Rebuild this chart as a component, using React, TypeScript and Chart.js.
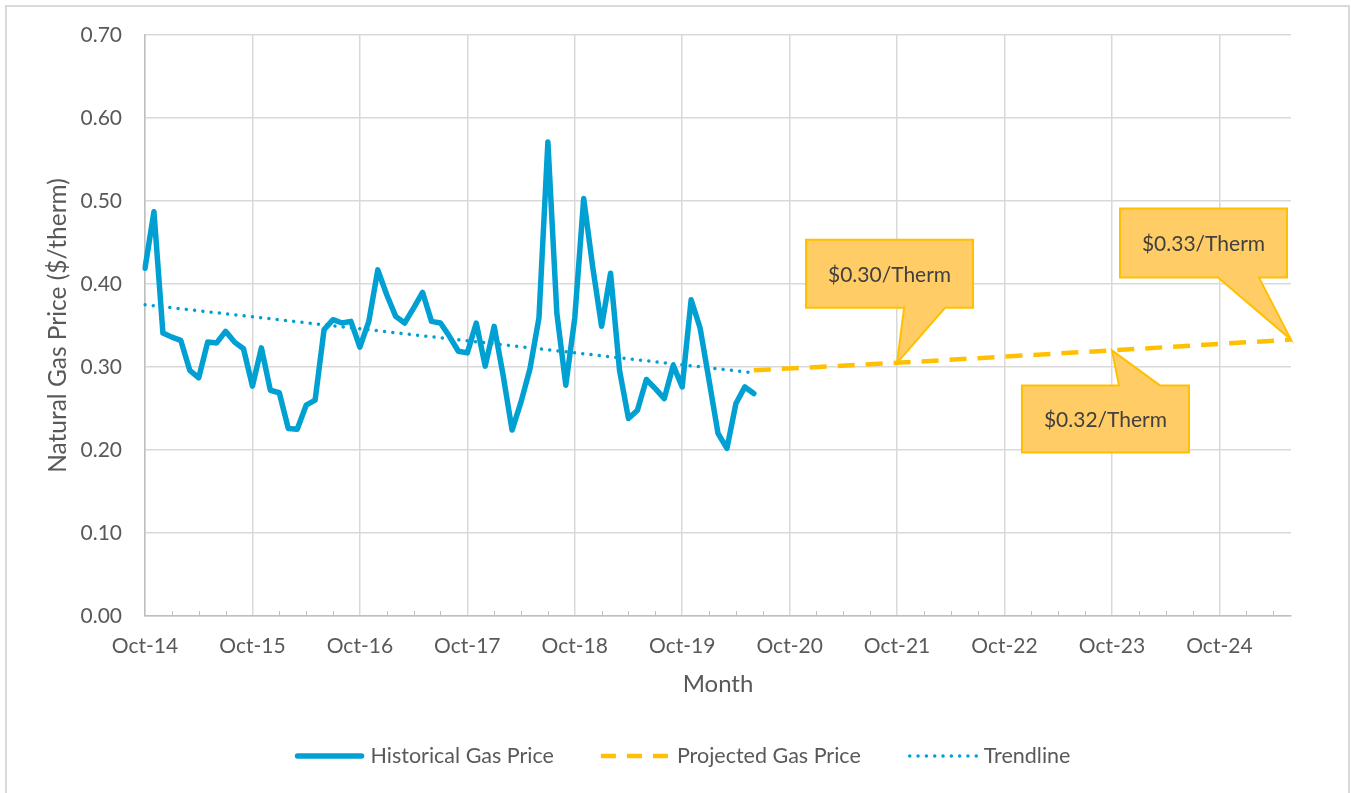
import React, { useEffect, useRef } from 'react';
import { Chart, registerables } from 'chart.js';

Chart.register(...registerables);

// ---------- data ----------
const MONTH_NAMES = ['Jan', 'Feb', 'Mar', 'Apr', 'May', 'Jun', 'Jul', 'Aug', 'Sep', 'Oct', 'Nov', 'Dec'];
const FIRST_YEAR = 2014;
const FIRST_MONTH_INDEX = 9; // Oct
const MONTH_COUNT = 129; // Oct-14 .. Jun-25

const categories: string[] = [];
for (let i = 0; i < MONTH_COUNT; i++) {
  const m = (FIRST_MONTH_INDEX + i) % 12;
  const yr = FIRST_YEAR + Math.floor((FIRST_MONTH_INDEX + i) / 12);
  categories.push(`${MONTH_NAMES[m]}-${String(yr % 100).padStart(2, '0')}`);
}

// Historical monthly gas price, Oct-14 .. Jun-20 ($/therm)
const historicalPrices = [
  0.419, 0.487, 0.341, 0.336, 0.332, 0.296, 0.287, 0.330, 0.329, 0.343, 0.330, 0.322,
  0.277, 0.323, 0.272, 0.269, 0.226, 0.225, 0.254, 0.260, 0.345, 0.357, 0.353, 0.355,
  0.324, 0.355, 0.417, 0.387, 0.361, 0.353, 0.371, 0.390, 0.355, 0.353, 0.337, 0.319,
  0.317, 0.353, 0.301, 0.349, 0.290, 0.224, 0.258, 0.298, 0.359, 0.571, 0.365, 0.278,
  0.359, 0.503, 0.421, 0.349, 0.413, 0.296, 0.238, 0.248, 0.285, 0.274, 0.262, 0.302,
  0.276, 0.381, 0.347, 0.284, 0.220, 0.202, 0.256, 0.276, 0.268,
];

// Projected gas price (straight line through these months)
const projectedMonths = ['Jun-20', 'Oct-21', 'Oct-23', 'Jun-25'];
const projectedValues = [0.296, 0.305, 0.320, 0.333];

// Linear trendline end points
const trendMonths = ['Oct-14', 'Jun-20'];
const trendValues = [0.375, 0.293];

// Callouts
const calloutTexts = ['$0.30/Therm', '$0.32/Therm', '$0.33/Therm'];
const calloutMonths = ['Oct-21', 'Oct-23', 'Jun-25'];

// y ticks
const yTickMin = 0;
const yTickMax = 0.7;
const yTickStep = 0.1;

const seriesNames = ['Historical Gas Price', 'Projected Gas Price', 'Trendline'];

// ---------- build series ----------
const historicalSeries = categories.map((_, i) => (i < historicalPrices.length ? historicalPrices[i] : null));
const projectedSeries: (number | null)[] = categories.map(() => null);
projectedMonths.forEach((m, i) => { projectedSeries[categories.indexOf(m)] = projectedValues[i]; });
const trendSeries: (number | null)[] = categories.map(() => null);
trendMonths.forEach((m, i) => { trendSeries[categories.indexOf(m)] = trendValues[i]; });

// ---------- styles ----------
const BLUE = '#00A0D3';
const GOLD = '#FFC000';
const TEXT = '#595959';
const GRID = '#d9d9d9';
const AXIS = '#bfbfbf';
const FONT = 'Lato, "Open Sans", sans-serif';

// callout geometry relative to the anchor (tip) point, in px
const calloutGeom = [
  { l: -91, r: 76, t: -123, b: -55, b1: 7, b2: 48, pointerAt: 'bottom' },
  { l: -90, r: 77, t: 35, b: 102, b1: 7, b2: 48, pointerAt: 'top' },
  { l: -171, r: -4, t: -131, b: -62, b1: -73, b2: -32, pointerAt: 'bottom' },
];

const calloutPlugin = {
  id: 'callouts',
  afterDatasetsDraw(chart: any) {
    const { ctx, scales } = chart;
    const x = scales.x, y = scales.y;
    ctx.save();
    calloutMonths.forEach((m, i) => {
      const idx = categories.indexOf(m);
      const v = projectedSeries[idx] as number;
      const tx = x.getPixelForValue(idx);
      const ty = y.getPixelForValue(v);
      const g = calloutGeom[i];
      const L = tx + g.l, R = tx + g.r, T = ty + g.t, B = ty + g.b;
      ctx.beginPath();
      if (g.pointerAt === 'bottom') {
        ctx.moveTo(L, T);
        ctx.lineTo(R, T);
        ctx.lineTo(R, B);
        ctx.lineTo(tx + g.b2, B);
        ctx.lineTo(tx, ty);
        ctx.lineTo(tx + g.b1, B);
        ctx.lineTo(L, B);
      } else {
        ctx.moveTo(L, T);
        ctx.lineTo(tx + g.b1, T);
        ctx.lineTo(tx, ty);
        ctx.lineTo(tx + g.b2, T);
        ctx.lineTo(R, T);
        ctx.lineTo(R, B);
        ctx.lineTo(L, B);
      }
      ctx.closePath();
      ctx.fillStyle = '#FFCC66';
      ctx.fill();
      ctx.lineWidth = 2;
      ctx.strokeStyle = GOLD;
      ctx.lineJoin = 'miter';
      ctx.stroke();
      ctx.fillStyle = '#404040';
      ctx.font = `21px ${FONT}`;
      ctx.textAlign = 'center';
      ctx.textBaseline = 'middle';
      ctx.fillText(calloutTexts[i], (L + R) / 2, (T + B) / 2 + 1);
    });
    ctx.restore();
  },
};

const minorTickPlugin = {
  id: 'minorTicks',
  afterDraw(chart: any) {
    const { ctx, scales, chartArea } = chart;
    const x = scales.x;
    ctx.save();
    ctx.strokeStyle = AXIS;
    ctx.lineWidth = 1;
    for (let i = 0; i < categories.length; i++) {
      if (i % 3 === 0 && i % 12 !== 0) {
        const px = Math.round(x.getPixelForValue(i)) + 0.5;
        ctx.beginPath();
        ctx.moveTo(px, chartArea.bottom - 5);
        ctx.lineTo(px, chartArea.bottom);
        ctx.stroke();
      }
    }
    ctx.restore();
  },
};

const legendPlugin = {
  id: 'customLegend',
  afterDraw(chart: any) {
    const { ctx, width } = chart;
    const sampleW = 70, gap = 6, spacing = 47, yc = 749;
    ctx.save();
    ctx.font = `21.5px ${FONT}`;
    const widths = seriesNames.map((n) => sampleW + gap + ctx.measureText(n).width);
    const total = widths.reduce((a, b) => a + b, 0) + spacing * (widths.length - 1);
    let cx = width / 2 + 5 - total / 2;
    seriesNames.forEach((name, i) => {
      ctx.save();
      ctx.beginPath();
      if (i === 0) {
        ctx.strokeStyle = BLUE; ctx.lineWidth = 5.5; ctx.lineCap = 'round'; ctx.setLineDash([]);
        ctx.moveTo(cx + 3, yc); ctx.lineTo(cx + sampleW - 3, yc);
      } else if (i === 1) {
        ctx.strokeStyle = GOLD; ctx.lineWidth = 4.5; ctx.lineCap = 'butt'; ctx.setLineDash([15, 11]);
        ctx.moveTo(cx, yc); ctx.lineTo(cx + sampleW, yc);
      } else {
        ctx.strokeStyle = BLUE; ctx.lineWidth = 3.5; ctx.lineCap = 'round'; ctx.setLineDash([0.01, 8.3]);
        ctx.moveTo(cx + 2, yc); ctx.lineTo(cx + sampleW, yc);
      }
      ctx.stroke();
      ctx.restore();
      ctx.fillStyle = TEXT;
      ctx.textAlign = 'left';
      ctx.textBaseline = 'middle';
      ctx.fillText(name, cx + sampleW + gap, yc);
      cx += widths[i] + spacing;
    });
    ctx.restore();
  },
};

export default function App() {
  const canvasRef = useRef<HTMLCanvasElement | null>(null);

  useEffect(() => {
    const canvas = canvasRef.current;
    if (!canvas) return;
    const chart = new Chart(canvas, {
      type: 'line',
      data: {
        labels: categories,
        datasets: [
          {
            label: seriesNames[0],
            data: historicalSeries,
            borderColor: BLUE,
            backgroundColor: BLUE,
            borderWidth: 5.5,
            pointRadius: 0,
            tension: 0,
            borderJoinStyle: 'round',
            borderCapStyle: 'round',
            spanGaps: false,
            order: 2,
          },
          {
            label: seriesNames[1],
            data: projectedSeries,
            borderColor: GOLD,
            backgroundColor: GOLD,
            borderWidth: 4.5,
            borderDash: [17, 11],
            pointRadius: 0,
            tension: 0,
            spanGaps: true,
            order: 1,
          },
          {
            label: seriesNames[2],
            data: trendSeries,
            borderColor: BLUE,
            backgroundColor: BLUE,
            borderWidth: 3.5,
            borderDash: [0.01, 8.3],
            borderCapStyle: 'round',
            pointRadius: 0,
            tension: 0,
            spanGaps: true,
            order: 3,
          },
        ],
      },
      options: {
        responsive: false,
        animation: false,
        events: [],
        layout: { padding: { left: 0, right: 57, top: 28, bottom: 82 } },
        plugins: {
          legend: { display: false },
          tooltip: { enabled: false },
        },
        scales: {
          x: {
            type: 'category',
            offset: false,
            afterFit: (scale: any) => {
              scale.height = 100;
              scale.paddingLeft = 0;
              scale.paddingRight = 0;
            },
            grid: {
              color: (c: any) => (c.index % 12 === 0 ? GRID : 'rgba(0,0,0,0)'),
              lineWidth: 1.5,
              drawTicks: false,
            },
            border: { color: AXIS, width: 1.5 },
            ticks: {
              autoSkip: false,
              maxRotation: 0,
              minRotation: 0,
              padding: 18,
              color: TEXT,
              font: { family: FONT, size: 21 },
              callback: (_v: any, i: number) => (i % 12 === 0 ? categories[i] : ''),
            },
            title: {
              display: true,
              text: 'Month',
              color: TEXT,
              font: { family: FONT, size: 24 },
              padding: { top: 0, bottom: 17 },
            },
          },
          y: {
            min: yTickMin,
            max: yTickMax,
            afterFit: (scale: any) => {
              scale.width = 138;
              scale.paddingTop = 0;
              scale.paddingBottom = 0;
            },
            grid: { color: GRID, lineWidth: 1.5, drawTicks: false },
            border: { color: AXIS, width: 1.5 },
            ticks: {
              stepSize: yTickStep,
              padding: 23,
              color: TEXT,
              font: { family: FONT, size: 21 },
              callback: (v: any) => Number(v).toFixed(2),
            },
            title: {
              display: true,
              text: 'Natural Gas Price ($/therm)',
              color: TEXT,
              font: { family: FONT, size: 24.5 },
              padding: { top: 36, bottom: 0 },
            },
          },
        },
      },
      plugins: [minorTickPlugin, calloutPlugin, legendPlugin],
    } as any);
    return () => chart.destroy();
  }, []);

  return (
    <div
      style={{
        position: 'fixed',
        left: 5,
        top: 5,
        width: 1345,
        height: 800,
        boxSizing: 'border-box',
        border: '2px solid #d9d9d9',
        background: '#fff',
        overflow: 'hidden',
      }}
    >
      <canvas ref={canvasRef} width={1341} height={791} style={{ display: 'block', width: 1341, height: 791 }} />
    </div>
  );
}
